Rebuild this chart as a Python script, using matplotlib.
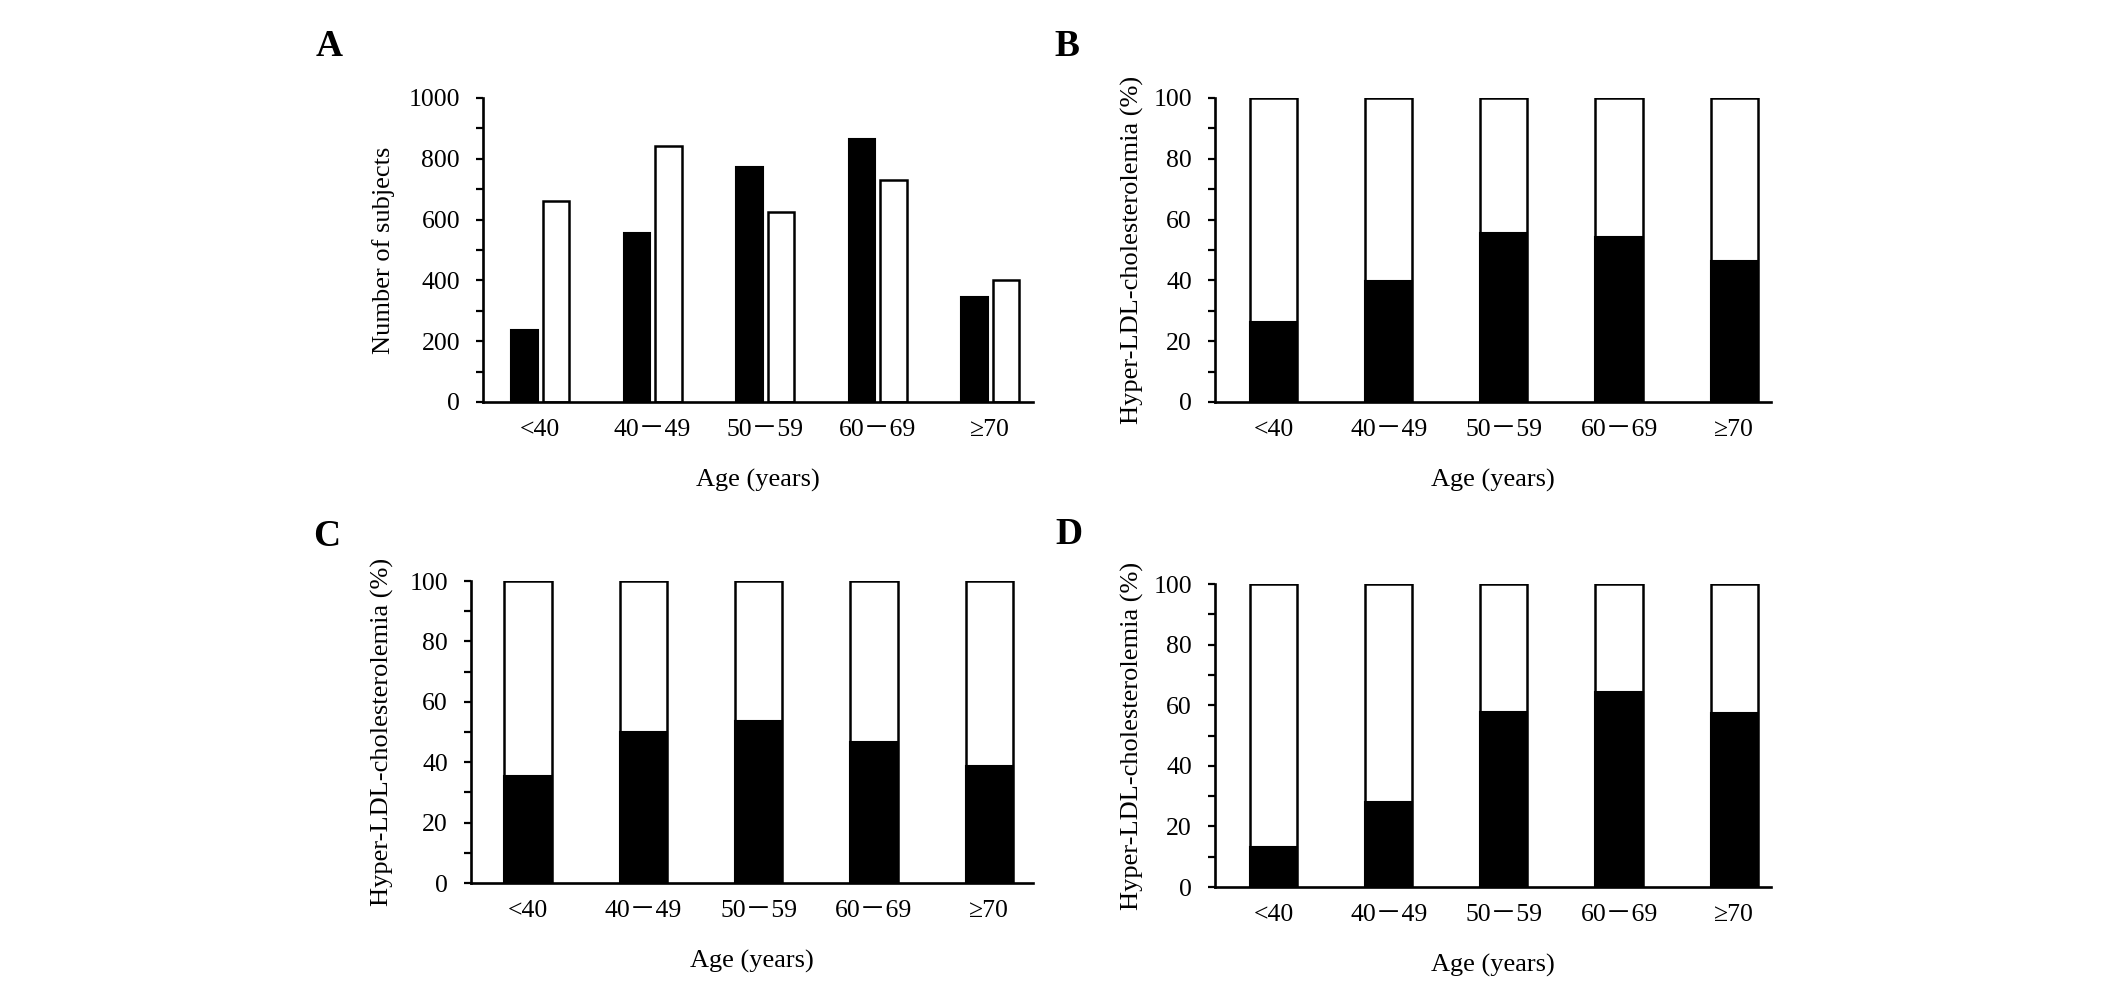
import matplotlib
matplotlib.use("Agg")
import matplotlib.pyplot as plt
from matplotlib.ticker import MultipleLocator
import numpy as np

plt.rcParams['font.family'] = ['Liberation Serif', 'Noto Sans CJK JP', 'DejaVu Sans']

# ---- data ----
age_groups = ['<40', '40\uff0d49', '50\uff0d59', '60\uff0d69', '\u226570']
subjects_black = [236, 557, 774, 866, 345]
subjects_white = [660, 841, 624, 731, 402]
pct_B = [26.3, 39.9, 55.5, 54.4, 46.3]
pct_C = [35.4, 49.9, 53.8, 46.6, 38.9]
pct_D = [13.2, 28.1, 57.8, 64.2, 57.4]
total_pct = [100, 100, 100, 100, 100]

W, H = 2126, 988
fig = plt.figure(figsize=(W / 100, H / 100), dpi=100)

TICK_FS = 18.5
LAB_FS = 19
LET_FS = 27


def ax_px(left, right, top, bottom):
    return fig.add_axes([left / W, (H - bottom) / H, (right - left) / W, (bottom - top) / H])


def style(ax, ymax, major, xlim, ylab, ylab_x, h_px):
    ax.set_ylim(0, ymax)
    ax.set_xlim(*xlim)
    ax.yaxis.set_major_locator(MultipleLocator(major))
    ax.yaxis.set_minor_locator(MultipleLocator(major / 2))
    for s in ['top', 'right']:
        ax.spines[s].set_visible(False)
    for s in ['left', 'bottom']:
        ax.spines[s].set_linewidth(1.9)
    ax.tick_params(axis='y', which='both', direction='out', length=5, width=1.6,
                   labelsize=TICK_FS, pad=11.5)
    ax.tick_params(axis='x', length=0, labelsize=TICK_FS, pad=12)
    ax.set_xticks(np.arange(len(age_groups)))
    ax.set_xticklabels(age_groups)
    ax.set_ylabel(ylab, fontsize=LAB_FS, va='center')
    ax.yaxis.set_label_coords(ylab_x, 0.5)
    ax.set_xlabel('Age (years)', fontsize=LAB_FS, va='center')
    ax.xaxis.set_label_coords(0.5, -78 / h_px)


x = np.arange(len(age_groups))

# Panel A
axA = ax_px(483, 1033, 98, 402)
bw = 0.235
axA.bar(x - 0.14, subjects_black, width=bw, color='black', edgecolor='black', linewidth=1.5)
axA.bar(x + 0.14, subjects_white, width=bw, color='white', edgecolor='black', linewidth=1.8)
style(axA, 1000, 200, (-0.507, 4.38), 'Number of subjects', (384 - 483) / 550, 304)


def stacked(ax, vals):
    ax.bar(x, total_pct, width=0.41, color='white', edgecolor='black', linewidth=1.8, zorder=2)
    ax.bar(x, vals, width=0.41, color='black', edgecolor='black', linewidth=1.5, zorder=3)


ylab_pct = 'Hyper-LDL-cholesterolemia (%)'

axB = ax_px(1215, 1771, 98, 402)
stacked(axB, pct_B)
style(axB, 100, 20, (-0.509, 4.32), ylab_pct, (1132 - 1215) / 556, 304)

axC = ax_px(471, 1033, 581, 883)
stacked(axC, pct_C)
style(axC, 100, 20, (-0.494, 4.38), ylab_pct, (382 - 471) / 562, 302)

axD = ax_px(1215, 1771, 584, 887)
stacked(axD, pct_D)
style(axD, 100, 20, (-0.509, 4.32), ylab_pct, (1132 - 1215) / 556, 303)

for lab, (px, py) in zip('ABCD', [(329, 46), (1067, 46), (327, 536), (1069, 535)]):
    fig.text(px / W, 1 - py / H, lab, fontsize=LET_FS, fontweight='bold',
             ha='center', va='center')

fig.savefig('out.png', dpi=100, facecolor='white')
